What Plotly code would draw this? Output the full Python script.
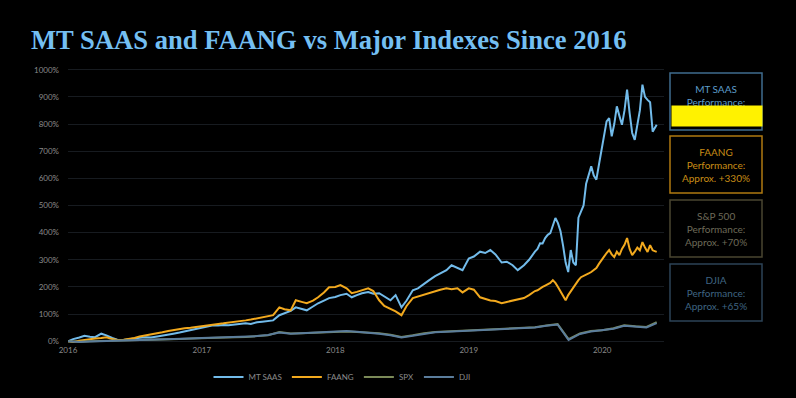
import plotly.graph_objects as go

# ---------------- data ----------------
# MT SAAS and FAANG: semi-monthly to mid-2019, weekly afterwards
main_dates = (
    [f"{y}-{m:02d}-{d}" for y in (2016, 2017, 2018) for m in range(1, 13) for d in ("01", "15")]
    + [f"2019-{m:02d}-{d}" for m in range(1, 7) for d in ("01", "15")]
    + ["2019-07-01", "2019-07-08", "2019-07-15", "2019-07-22", "2019-07-29",
       "2019-08-05", "2019-08-12", "2019-08-19", "2019-08-26",
       "2019-09-02", "2019-09-09", "2019-09-16", "2019-09-23", "2019-09-30",
       "2019-10-07", "2019-10-14", "2019-10-21", "2019-10-28",
       "2019-11-04", "2019-11-11", "2019-11-18", "2019-11-25",
       "2019-12-02", "2019-12-09", "2019-12-16", "2019-12-23", "2019-12-30",
       "2020-01-06", "2020-01-13", "2020-01-20", "2020-01-27",
       "2020-02-03", "2020-02-10", "2020-02-17", "2020-02-24",
       "2020-03-02", "2020-03-09", "2020-03-16", "2020-03-23", "2020-03-30",
       "2020-04-06", "2020-04-13", "2020-04-20", "2020-04-27",
       "2020-05-04", "2020-05-11", "2020-05-18", "2020-05-29"]
)

mt_saas = [
    # 2016
    0, 8, 14, 20, 17, 15, 28, 22, 12, 6, 5, 8, 10, 13, 15, 14, 18, 22, 24, 28, 32, 36, 40, 45,
    # 2017
    50, 55, 59, 58, 60, 59, 62, 64, 66, 64, 70, 72, 74, 77, 96, 104, 112, 125, 118, 114, 128, 140, 150, 159,
    # 2018
    163, 170, 175, 162, 170, 177, 181, 175, 177, 165, 151, 170, 125, 150, 188, 195, 210, 225, 240, 250, 262, 280, 270, 262,
    # 2019 H1
    305, 312, 330, 325, 336, 320, 290, 293, 280, 262, 280, 300,
    # weekly 2019-07 .. 2020-05
    330, 340, 361, 360, 380, 392, 398, 430, 454,
    435, 405, 352, 290, 255, 336, 290, 280, 455,
    480, 500, 580, 610, 644, 610, 595, 650, 705,
    760, 810, 822, 755, 800, 865, 830, 797,
    850, 927, 840, 767, 742, 790, 850, 945, 900,
    889, 880, 772, 797,
]

faang = [
    # 2016
    0, -3, 2, 5, 8, 10, 12, 15, 8, 5, 6, 8, 12, 18, 22, 24, 30, 33, 38, 42, 45, 48, 50, 53,
    # 2017
    56, 59, 62, 64, 66, 68, 72, 75, 77, 80, 85, 88, 92, 96, 125, 118, 114, 151, 145, 140, 150, 162, 180, 199,
    # 2018
    200, 207, 195, 177, 182, 188, 195, 185, 151, 130, 120, 110, 96, 130, 159, 165, 170, 177, 185, 190, 195, 192, 195, 180,
    # 2019 H1
    195, 190, 162, 155, 150, 148, 140, 145, 150, 155, 159, 170,
    # weekly 2019-07 .. 2020-05
    185, 188, 195, 200, 205, 210, 215, 225, 215,
    200, 185, 165, 151, 170, 185, 199, 210, 225,
    236, 240, 245, 250, 255, 262, 270, 285, 300,
    315, 325, 336, 320, 310, 330, 317, 340,
    355, 380, 340, 317, 330, 345, 335, 365, 345,
    329, 354, 335, 329,
]

# Indexes: monthly
index_dates = (
    [f"{y}-{m:02d}-01" for y in (2016, 2017, 2018, 2019) for m in range(1, 13)]
    + [f"2020-{m:02d}-01" for m in range(1, 6)] + ["2020-05-29"]
)
spx = [
    0, -2, 0, 1, 1, 1, 2, 3, 4, 6, 8, 10,
    12, 13, 14, 15, 16, 18, 22, 34, 29, 30, 31, 33,
    34, 36, 34, 33, 30, 24, 16, 22, 30, 34, 36, 38,
    41, 42, 43, 45, 47, 50, 52, 58, 63, 8, 29, 38,
    41, 48, 59, 55, 53, 70,
]
dji = [
    0, -3, -1, 0, 1, 2, 3, 4, 5, 7, 8, 10,
    12, 13, 15, 16, 17, 19, 23, 32, 28, 30, 32, 34,
    36, 38, 35, 32, 28, 22, 14, 20, 28, 33, 35, 37,
    40, 41, 42, 44, 46, 49, 51, 57, 62, 5, 27, 36,
    40, 46, 57, 53, 51, 67,
]

series_names = ["MT SAAS", "FAANG", "SPX", "DJI"]
series_colors = ["#72bbea", "#f2a91e", "#7b8a58", "#5b7d9c"]

y_ticks = list(range(0, 1001, 100))
y_tick_text = [f"{v}%" for v in y_ticks]
x_ticks = ["2016-01-01", "2017-01-01", "2018-01-01", "2019-01-01", "2020-01-01"]
x_tick_text = ["2016", "2017", "2018", "2019", "2020"]

box_titles = ["MT SAAS", "FAANG", "S&P 500", "DJIA"]
box_perf = ["+800%", "+330%", "+70%", "+65%"]
box_border = ["#3f6c8f", "#b07a10", "#4a4530", "#2c4357"]
box_text = ["#5d9cc9", "#c98d16", "#6d6a58", "#3f6482"]

# ---------------- figure ----------------
W, H = 796, 398
ML, MR, MT, MB = 68, 132, 67, 54

fig = go.Figure()
fig.add_trace(go.Scatter(x=main_dates, y=mt_saas, name=series_names[0], mode="lines",
                         line=dict(color=series_colors[0], width=2)))
fig.add_trace(go.Scatter(x=main_dates, y=faang, name=series_names[1], mode="lines",
                         line=dict(color=series_colors[1], width=2)))
fig.add_trace(go.Scatter(x=index_dates, y=spx, name=series_names[2], mode="lines",
                         line=dict(color=series_colors[2], width=2)))
fig.add_trace(go.Scatter(x=index_dates, y=dji, name=series_names[3], mode="lines",
                         line=dict(color=series_colors[3], width=2)))

plot_w = W - ML - MR
plot_h = H - MT - MB


def px_x(x):
    return (x - ML) / plot_w


def px_y(y):
    return (H - MB - y) / plot_h


shapes = []
annotations = []
box_tops = [73, 136, 200, 264]
box_h = 57
bx0, bx1 = 670, 762
for i in range(4):
    t = box_tops[i]
    shapes.append(dict(type="rect", xref="paper", yref="paper",
                       x0=px_x(bx0), x1=px_x(bx1), y0=px_y(t + box_h), y1=px_y(t),
                       line=dict(color=box_border[i], width=1.5), fillcolor="rgba(0,0,0,0)"))
    annotations.append(dict(xref="paper", yref="paper", x=px_x((bx0 + bx1) / 2), y=px_y(t + box_h / 2),
                            xanchor="center", yanchor="middle", showarrow=False,
                            text=f"{box_titles[i]}<br>Performance:<br>Approx. {box_perf[i]}",
                            font=dict(family="Lato, Open Sans, sans-serif", size=10, color=box_text[i]),
                            align="center"))
# yellow highlight over MT SAAS figure
annotations.append(dict(xref="paper", yref="paper", x=px_x(717), y=px_y(116),
                        xanchor="center", yanchor="middle", showarrow=False,
                        text="", width=90, height=20, bgcolor="#fff200", borderpad=0))

annotations.append(dict(xref="paper", yref="paper", x=px_x(29), y=px_y(40),
                        xanchor="left", yanchor="middle", showarrow=False,
                        text="<b>MT SAAS and FAANG vs Major Indexes Since 2016</b>",
                        font=dict(family="Liberation Serif, serif", size=26.6, color="#74bff2")))

fig.update_layout(
    width=W, height=H,
    margin=dict(l=ML, r=MR, t=MT, b=MB, autoexpand=False),
    paper_bgcolor="#000000", plot_bgcolor="#000000",
    showlegend=True,
    legend=dict(orientation="h", x=342 / W, xanchor="center", xref="container",
                y=(H - 377) / H, yanchor="middle", yref="container",
                font=dict(family="Lato, sans-serif", size=8, color="#8a8a8a"),
                itemwidth=30, tracegroupgap=0, bgcolor="rgba(0,0,0,0)"),
    xaxis=dict(type="date", range=["2016-01-01", "2020-06-18"], tickvals=x_ticks,
               ticktext=x_tick_text, showgrid=False, zeroline=False, showline=False,
               tickfont=dict(family="Lato, sans-serif", size=8, color="#8a8a8a"), ticks=""),
    yaxis=dict(range=[-10, 1010], tickvals=y_ticks, ticktext=y_tick_text,
               showgrid=True, gridcolor="#171b20", gridwidth=1, zeroline=False,
               tickfont=dict(family="Lato, sans-serif", size=8, color="#8a8a8a"),
               ticks="", ticklabelstandoff=8),
    shapes=shapes,
    annotations=annotations,
)

fig.write_html("out.html", config={"displayModeBar": False},
               post_script="document.body.style.margin='0';document.body.style.background='#000';")
